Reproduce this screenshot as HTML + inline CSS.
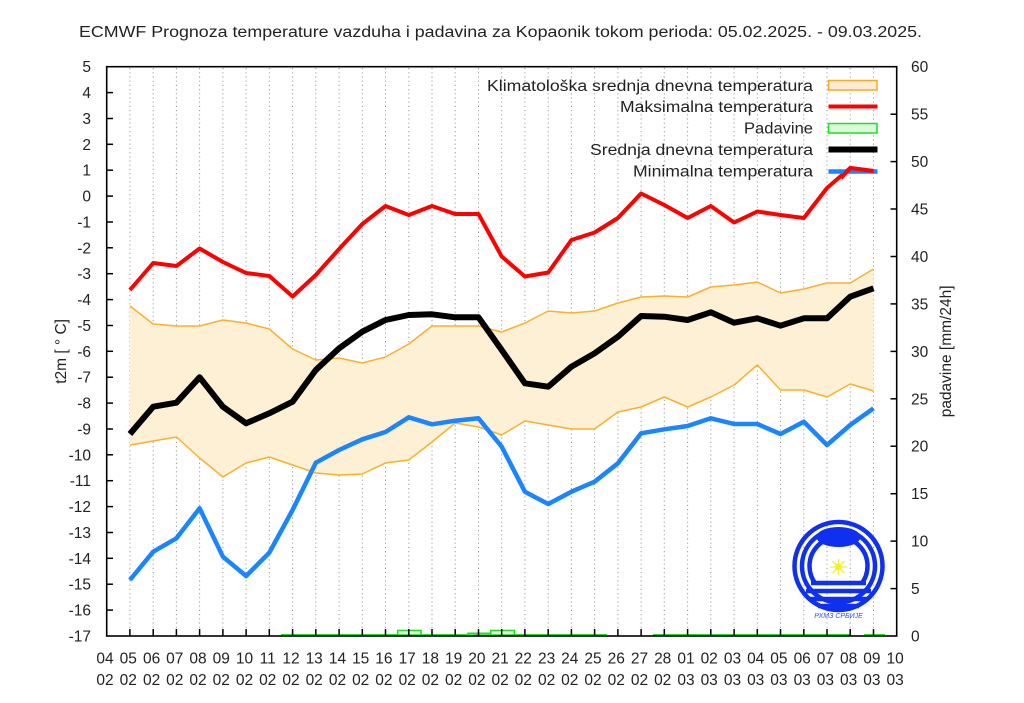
<!DOCTYPE html>
<html><head><meta charset="utf-8"><style>
html,body{margin:0;padding:0;background:#fff;}
svg{display:block;font-family:"Liberation Sans",Arial,sans-serif;}
</style></head><body>
<svg width="1024" height="703" viewBox="0 0 1024 703" xmlns="http://www.w3.org/2000/svg">
<rect width="1024" height="703" fill="#fff"/>
<text x="500.5" y="37" font-size="15.5" fill="#222" text-anchor="middle" textLength="843" lengthAdjust="spacingAndGlyphs">ECMWF Prognoza temperature vazduha i padavina za Kopaonik tokom perioda: 05.02.2025. - 09.03.2025.</text>

<g stroke="#999" stroke-width="1" stroke-dasharray="1.2,3">
<line x1="129.9" y1="68" x2="129.9" y2="629"/><line x1="153.2" y1="68" x2="153.2" y2="629"/><line x1="176.4" y1="68" x2="176.4" y2="629"/><line x1="199.6" y1="68" x2="199.6" y2="629"/><line x1="222.9" y1="68" x2="222.9" y2="629"/><line x1="246.1" y1="68" x2="246.1" y2="629"/><line x1="269.3" y1="68" x2="269.3" y2="629"/><line x1="292.6" y1="68" x2="292.6" y2="629"/><line x1="315.8" y1="68" x2="315.8" y2="629"/><line x1="339.1" y1="68" x2="339.1" y2="629"/><line x1="362.3" y1="68" x2="362.3" y2="629"/><line x1="385.5" y1="68" x2="385.5" y2="629"/><line x1="408.8" y1="68" x2="408.8" y2="629"/><line x1="432.0" y1="68" x2="432.0" y2="629"/><line x1="455.2" y1="68" x2="455.2" y2="629"/><line x1="478.5" y1="68" x2="478.5" y2="629"/><line x1="501.7" y1="68" x2="501.7" y2="629"/><line x1="524.9" y1="68" x2="524.9" y2="629"/><line x1="548.2" y1="68" x2="548.2" y2="629"/><line x1="571.4" y1="68" x2="571.4" y2="629"/><line x1="594.6" y1="68" x2="594.6" y2="629"/><line x1="617.9" y1="68" x2="617.9" y2="629"/><line x1="641.1" y1="68" x2="641.1" y2="629"/><line x1="664.3" y1="68" x2="664.3" y2="629"/><line x1="687.6" y1="68" x2="687.6" y2="629"/><line x1="710.8" y1="68" x2="710.8" y2="629"/><line x1="734.1" y1="68" x2="734.1" y2="629"/><line x1="757.3" y1="68" x2="757.3" y2="629"/><line x1="780.5" y1="68" x2="780.5" y2="629"/><line x1="803.8" y1="68" x2="803.8" y2="629"/><line x1="827.0" y1="68" x2="827.0" y2="629"/><line x1="850.2" y1="68" x2="850.2" y2="629"/><line x1="873.5" y1="68" x2="873.5" y2="629"/>
</g>

<polygon fill="#fdf0d4" stroke="none" points="129.9,306 153.2,324 176.4,326 199.6,326 222.9,320 246.1,323 269.3,329 292.6,349 315.8,360 339.1,358 362.3,363 385.5,357 408.8,344 432,326 455.2,326 478.5,326 501.7,332 524.9,323 548.2,311 571.4,313 594.6,311 617.9,303 641.1,297 664.3,296 687.6,297 710.8,287 734.1,285 757.3,282 780.5,293 803.8,289 827,283 850.2,283 873.5,269 873.5,391 850.2,384 827,397 803.8,390 780.5,390 757.3,365 734.1,385 710.8,397 687.6,407 664.3,397 641.1,407 617.9,412 594.6,429 571.4,429 548.2,425 524.9,421 501.7,435 478.5,427 455.2,423 432,442 408.8,460 385.5,463 362.3,474 339.1,475 315.8,473 292.6,465 269.3,457 246.1,463 222.9,477 199.6,458 176.4,437 153.2,441 129.9,445"/>
<g fill="none" stroke="#f6b22e" stroke-width="1.5" stroke-linejoin="round">
<polyline points="129.9,306 153.2,324 176.4,326 199.6,326 222.9,320 246.1,323 269.3,329 292.6,349 315.8,360 339.1,358 362.3,363 385.5,357 408.8,344 432,326 455.2,326 478.5,326 501.7,332 524.9,323 548.2,311 571.4,313 594.6,311 617.9,303 641.1,297 664.3,296 687.6,297 710.8,287 734.1,285 757.3,282 780.5,293 803.8,289 827,283 850.2,283 873.5,269"/>
<polyline points="129.9,445 153.2,441 176.4,437 199.6,458 222.9,477 246.1,463 269.3,457 292.6,465 315.8,473 339.1,475 362.3,474 385.5,463 408.8,460 432,442 455.2,423 478.5,427 501.7,435 524.9,421 548.2,425 571.4,429 594.6,429 617.9,412 641.1,407 664.3,397 687.6,407 710.8,397 734.1,385 757.3,365 780.5,390 803.8,390 827,397 850.2,384 873.5,391"/>
</g>

<g fill="#eafbea" stroke="#22dd22" stroke-width="1.6">
<polyline fill="none" points="281,634.8 607,634.8"/>
<polyline fill="none" points="653,634.8 850,634.8"/>
<polyline fill="none" points="864,634.8 885,634.8"/>
<rect x="397.7" y="630.5" width="23.3" height="4.5"/>
<rect x="468" y="633.3" width="22.7" height="1.8"/>
<rect x="490.7" y="630.5" width="23.6" height="4.5"/>
</g>

<polyline fill="none" stroke="#ff0000" stroke-width="4" stroke-linejoin="round" points="129.9,290 153.2,263 176.4,266 199.6,248.5 222.9,262 246.1,273 269.3,276 292.6,296.5 315.8,275 339.1,249 362.3,224 385.5,206 408.8,215 432,206 455.2,214 478.5,214 501.7,256.5 524.9,276.5 548.2,272.5 571.4,240 594.6,232.5 617.9,218 641.1,193.5 664.3,205 687.6,218 710.8,206 734.1,222.5 757.3,211.5 780.5,215 803.8,218 827,188 850.2,168 873.5,171"/>
<polyline fill="none" stroke="#000" stroke-width="6" stroke-linejoin="round" points="129.9,434 153.2,406.7 176.4,402.7 199.6,377.3 222.9,406.7 246.1,423.3 269.3,413.3 292.6,401.7 315.8,370 339.1,348.3 362.3,331.7 385.5,320 408.8,315 432,314.3 455.2,317.3 478.5,317.3 501.7,350 524.9,383.3 548.2,386.7 571.4,366.7 594.6,353.3 617.9,336.7 641.1,316 664.3,316.7 687.6,320 710.8,312.3 734.1,322.7 757.3,318.3 780.5,325.7 803.8,318.3 827,318.3 850.2,296.7 873.5,288.3"/>
<polyline fill="none" stroke="#1a85ff" stroke-width="4.5" stroke-linejoin="round" points="129.9,580 153.2,551.7 176.4,538.3 199.6,508.3 222.9,556.7 246.1,576 269.3,552.7 292.6,510 315.8,462.7 339.1,450 362.3,439.3 385.5,432 408.8,417.3 432,424.3 455.2,420.7 478.5,418.3 501.7,446.7 524.9,491.7 548.2,504 571.4,491.7 594.6,481.7 617.9,463.3 641.1,433.3 664.3,429.3 687.6,426 710.8,418.3 734.1,424 757.3,424 780.5,434 803.8,421.7 827,445 850.2,425 873.5,408.3"/>

<!-- legend -->
<g font-size="15.5" fill="#222" text-anchor="end">
<text x="813" y="91" textLength="326" lengthAdjust="spacingAndGlyphs">Klimatološka srednja dnevna temperatura</text>
<text x="813" y="112" textLength="193" lengthAdjust="spacingAndGlyphs">Maksimalna temperatura</text>
<text x="813" y="133.5" textLength="69" lengthAdjust="spacingAndGlyphs">Padavine</text>
<text x="813" y="155" textLength="223" lengthAdjust="spacingAndGlyphs">Srednja dnevna temperatura</text>
<text x="813" y="176.5" textLength="180" lengthAdjust="spacingAndGlyphs">Minimalna temperatura</text>
</g>
<rect x="828.5" y="80.5" width="48.5" height="9.5" fill="#fdebd3" stroke="#f7a92a" stroke-width="1.5"/>
<line x1="828.5" y1="106.5" x2="877.5" y2="106.5" stroke="#ff0000" stroke-width="4"/>
<rect x="828.5" y="123.5" width="48.5" height="9.5" fill="#dcf9dc" stroke="#22dd22" stroke-width="1.5"/>
<line x1="828.5" y1="149.5" x2="877.5" y2="149.5" stroke="#000" stroke-width="6"/>
<line x1="828.5" y1="171.5" x2="877.5" y2="171.5" stroke="#1a85ff" stroke-width="4.5"/>
<polyline fill="none" stroke="#ff0000" stroke-width="4" points="841,178 850.2,168 873.5,171"/>

<!-- frame -->
<rect x="106.7" y="66.7" width="790" height="569.3" fill="none" stroke="#000" stroke-width="1.6"/>
<g stroke="#000" stroke-width="1.5">
<line x1="106.7" y1="92.6" x2="113" y2="92.6"/><line x1="106.7" y1="118.5" x2="113" y2="118.5"/><line x1="106.7" y1="144.3" x2="113" y2="144.3"/><line x1="106.7" y1="170.2" x2="113" y2="170.2"/><line x1="106.7" y1="196.1" x2="113" y2="196.1"/><line x1="106.7" y1="222.0" x2="113" y2="222.0"/><line x1="106.7" y1="247.8" x2="113" y2="247.8"/><line x1="106.7" y1="273.7" x2="113" y2="273.7"/><line x1="106.7" y1="299.6" x2="113" y2="299.6"/><line x1="106.7" y1="325.5" x2="113" y2="325.5"/><line x1="106.7" y1="351.3" x2="113" y2="351.3"/><line x1="106.7" y1="377.2" x2="113" y2="377.2"/><line x1="106.7" y1="403.1" x2="113" y2="403.1"/><line x1="106.7" y1="429.0" x2="113" y2="429.0"/><line x1="106.7" y1="454.8" x2="113" y2="454.8"/><line x1="106.7" y1="480.7" x2="113" y2="480.7"/><line x1="106.7" y1="506.6" x2="113" y2="506.6"/><line x1="106.7" y1="532.5" x2="113" y2="532.5"/><line x1="106.7" y1="558.3" x2="113" y2="558.3"/><line x1="106.7" y1="584.2" x2="113" y2="584.2"/><line x1="106.7" y1="610.1" x2="113" y2="610.1"/>
<line x1="890.5" y1="588.6" x2="896.7" y2="588.6"/><line x1="890.5" y1="541.1" x2="896.7" y2="541.1"/><line x1="890.5" y1="493.7" x2="896.7" y2="493.7"/><line x1="890.5" y1="446.2" x2="896.7" y2="446.2"/><line x1="890.5" y1="398.8" x2="896.7" y2="398.8"/><line x1="890.5" y1="351.4" x2="896.7" y2="351.4"/><line x1="890.5" y1="303.9" x2="896.7" y2="303.9"/><line x1="890.5" y1="256.5" x2="896.7" y2="256.5"/><line x1="890.5" y1="209.0" x2="896.7" y2="209.0"/><line x1="890.5" y1="161.6" x2="896.7" y2="161.6"/><line x1="890.5" y1="114.2" x2="896.7" y2="114.2"/>
<line x1="129.9" y1="636" x2="129.9" y2="629"/><line x1="153.2" y1="636" x2="153.2" y2="629"/><line x1="176.4" y1="636" x2="176.4" y2="629"/><line x1="199.6" y1="636" x2="199.6" y2="629"/><line x1="222.9" y1="636" x2="222.9" y2="629"/><line x1="246.1" y1="636" x2="246.1" y2="629"/><line x1="269.3" y1="636" x2="269.3" y2="629"/><line x1="292.6" y1="636" x2="292.6" y2="629"/><line x1="315.8" y1="636" x2="315.8" y2="629"/><line x1="339.1" y1="636" x2="339.1" y2="629"/><line x1="362.3" y1="636" x2="362.3" y2="629"/><line x1="385.5" y1="636" x2="385.5" y2="629"/><line x1="408.8" y1="636" x2="408.8" y2="629"/><line x1="432.0" y1="636" x2="432.0" y2="629"/><line x1="455.2" y1="636" x2="455.2" y2="629"/><line x1="478.5" y1="636" x2="478.5" y2="629"/><line x1="501.7" y1="636" x2="501.7" y2="629"/><line x1="524.9" y1="636" x2="524.9" y2="629"/><line x1="548.2" y1="636" x2="548.2" y2="629"/><line x1="571.4" y1="636" x2="571.4" y2="629"/><line x1="594.6" y1="636" x2="594.6" y2="629"/><line x1="617.9" y1="636" x2="617.9" y2="629"/><line x1="641.1" y1="636" x2="641.1" y2="629"/><line x1="664.3" y1="636" x2="664.3" y2="629"/><line x1="687.6" y1="636" x2="687.6" y2="629"/><line x1="710.8" y1="636" x2="710.8" y2="629"/><line x1="734.1" y1="636" x2="734.1" y2="629"/><line x1="757.3" y1="636" x2="757.3" y2="629"/><line x1="780.5" y1="636" x2="780.5" y2="629"/><line x1="803.8" y1="636" x2="803.8" y2="629"/><line x1="827.0" y1="636" x2="827.0" y2="629"/><line x1="850.2" y1="636" x2="850.2" y2="629"/><line x1="873.5" y1="636" x2="873.5" y2="629"/>
</g>

<!-- left labels -->
<g font-size="15.5" fill="#222" text-anchor="end">
<text x="91" y="72.2">5</text><text x="91" y="98.1">4</text><text x="91" y="124">3</text><text x="91" y="149.8">2</text><text x="91" y="175.7">1</text><text x="91" y="201.6">0</text><text x="91" y="227.5">-1</text><text x="91" y="253.3">-2</text><text x="91" y="279.2">-3</text><text x="91" y="305.1">-4</text><text x="91" y="331">-5</text><text x="91" y="356.8">-6</text><text x="91" y="382.7">-7</text><text x="91" y="408.6">-8</text><text x="91" y="434.5">-9</text><text x="91" y="460.3">-10</text><text x="91" y="486.2">-11</text><text x="91" y="512.1">-12</text><text x="91" y="538">-13</text><text x="91" y="563.8">-14</text><text x="91" y="589.7">-15</text><text x="91" y="615.6">-16</text><text x="91" y="641.5">-17</text>
</g>
<!-- right labels -->
<g font-size="15.5" fill="#222" text-anchor="start">
<text x="911" y="72.2">60</text><text x="911" y="119.7">55</text><text x="911" y="167.1">50</text><text x="911" y="214.5">45</text><text x="911" y="262">40</text><text x="911" y="309.4">35</text><text x="911" y="356.9">30</text><text x="911" y="404.3">25</text><text x="911" y="451.7">20</text><text x="911" y="499.2">15</text><text x="911" y="546.6">10</text><text x="911" y="594.1">5</text><text x="911" y="641.5">0</text>
</g>
<!-- axis titles -->
<text font-size="15.5" fill="#222" text-anchor="middle" transform="translate(66,351.4) rotate(-90)">t2m [ ° C]</text>
<text font-size="15.5" fill="#222" text-anchor="middle" transform="translate(951,351.4) rotate(-90)">padavine [mm/24h]</text>

<!-- x labels -->
<g font-size="15.5" fill="#222" text-anchor="middle">
<text x="105" y="663.5">04</text><text x="128.3" y="663.5">05</text><text x="151.6" y="663.5">06</text><text x="174.8" y="663.5">07</text><text x="198" y="663.5">08</text><text x="221.3" y="663.5">09</text><text x="244.5" y="663.5">10</text><text x="267.7" y="663.5">11</text><text x="291" y="663.5">12</text><text x="314.2" y="663.5">13</text><text x="337.5" y="663.5">14</text><text x="360.7" y="663.5">15</text><text x="383.9" y="663.5">16</text><text x="407.2" y="663.5">17</text><text x="430.4" y="663.5">18</text><text x="453.6" y="663.5">19</text><text x="476.9" y="663.5">20</text><text x="500.1" y="663.5">21</text><text x="523.3" y="663.5">22</text><text x="546.6" y="663.5">23</text><text x="569.8" y="663.5">24</text><text x="593" y="663.5">25</text><text x="616.3" y="663.5">26</text><text x="639.5" y="663.5">27</text><text x="662.7" y="663.5">28</text><text x="686" y="663.5">01</text><text x="709.2" y="663.5">02</text><text x="732.5" y="663.5">03</text><text x="755.7" y="663.5">04</text><text x="778.9" y="663.5">05</text><text x="802.2" y="663.5">06</text><text x="825.4" y="663.5">07</text><text x="848.6" y="663.5">08</text><text x="871.9" y="663.5">09</text><text x="895.1" y="663.5">10</text>
<text x="105" y="685">02</text><text x="128.3" y="685">02</text><text x="151.6" y="685">02</text><text x="174.8" y="685">02</text><text x="198" y="685">02</text><text x="221.3" y="685">02</text><text x="244.5" y="685">02</text><text x="267.7" y="685">02</text><text x="291" y="685">02</text><text x="314.2" y="685">02</text><text x="337.5" y="685">02</text><text x="360.7" y="685">02</text><text x="383.9" y="685">02</text><text x="407.2" y="685">02</text><text x="430.4" y="685">02</text><text x="453.6" y="685">02</text><text x="476.9" y="685">02</text><text x="500.1" y="685">02</text><text x="523.3" y="685">02</text><text x="546.6" y="685">02</text><text x="569.8" y="685">02</text><text x="593" y="685">02</text><text x="616.3" y="685">02</text><text x="639.5" y="685">02</text><text x="662.7" y="685">02</text><text x="686" y="685">03</text><text x="709.2" y="685">03</text><text x="732.5" y="685">03</text><text x="755.7" y="685">03</text><text x="778.9" y="685">03</text><text x="802.2" y="685">03</text><text x="825.4" y="685">03</text><text x="848.6" y="685">03</text><text x="871.9" y="685">03</text><text x="895.1" y="685">03</text>
</g>

<!-- logo -->
<defs><clipPath id="topc"><rect x="780" y="520" width="120" height="63"/></clipPath></defs>
<g fill="none" stroke="#1030f0" stroke-width="4.5">
<circle cx="838.5" cy="566" r="44"/>
<circle cx="838.5" cy="566" r="36.5"/>
<circle cx="838.5" cy="566" r="29" clip-path="url(#topc)"/>
<line x1="811" y1="583" x2="866" y2="583"/>
<line x1="806" y1="591" x2="871" y2="591"/>
<line x1="810" y1="599" x2="867" y2="599"/>
<line x1="818" y1="606" x2="859" y2="606"/>
</g>
<ellipse cx="838.5" cy="537" rx="22" ry="10" fill="#1030f0"/>
<g stroke="#f0f040" stroke-width="1.3">
<line x1="830" y1="567" x2="847" y2="567"/><line x1="838.5" y1="559" x2="838.5" y2="575"/><line x1="832.5" y1="561" x2="844.5" y2="573"/><line x1="844.5" y1="561" x2="832.5" y2="573"/>
</g>
<circle cx="838.5" cy="567" r="3.5" fill="#f5f020"/>
<text x="838.5" y="618" font-size="7" fill="#3050f0" text-anchor="middle" font-style="italic">РХМЗ СРБИЈЕ</text>
</svg>
</body></html>
